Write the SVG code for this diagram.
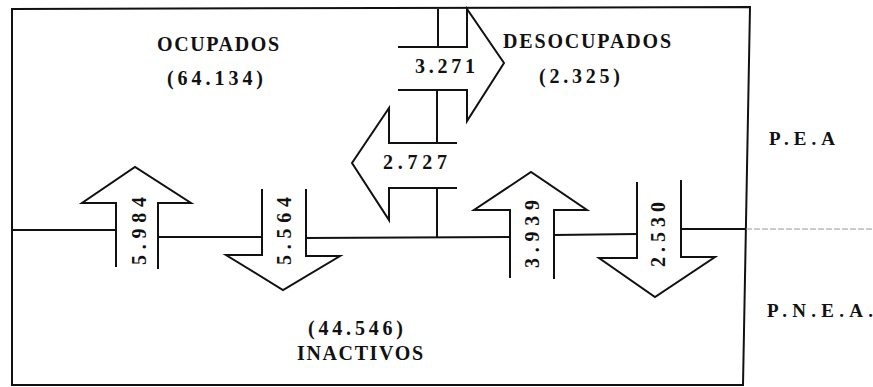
<svg xmlns="http://www.w3.org/2000/svg" width="873" height="387" viewBox="0 0 873 387">
<style>
.ln{fill:none;stroke:#111;stroke-width:2;stroke-linejoin:miter}
.t{font-family:"Liberation Serif","Times New Roman",serif;font-weight:bold;font-size:20px;fill:#111}
.lbl{font-family:"Liberation Serif","Times New Roman",serif;font-weight:bold;font-size:19px;fill:#111}
</style>
<rect width="873" height="387" fill="#fff"/>
<g id="frame">
<path class="ln" d="M12,9 L750,7 L743,385 L12,385 Z"/>
<line x1="746" y1="229" x2="873" y2="229" stroke="#999" stroke-width="1" stroke-dasharray="6,2"/>
</g>
<g id="connectors">
<path class="ln" d="M12,230 L116,230"/>
<path class="ln" d="M158,237 L262,237"/>
<path class="ln" d="M306,238 L510,237"/>
<path class="ln" d="M554,235 L637,234"/>
<path class="ln" d="M681,229 L745,229"/>
<path class="ln" d="M438,9 L438,47 M437,90 L437,143 M437,188 L437,237"/>
</g>
<g id="ocupados">
<text class="t" x="157" y="51" textLength="122" lengthAdjust="spacing">OCUPADOS</text>
<text class="t" x="167" y="85" textLength="96" lengthAdjust="spacing">(64.134)</text>
</g>
<g id="desocupados">
<text class="t" x="503" y="48" textLength="168" lengthAdjust="spacing">DESOCUPADOS</text>
<text class="t" x="539" y="83" textLength="81" lengthAdjust="spacing">(2.325)</text>
</g>
<g id="inactivos">
<text class="t" x="308" y="335" textLength="95" lengthAdjust="spacing">(44.546)</text>
<text class="t" x="297" y="360" textLength="126" lengthAdjust="spacing">INACTIVOS</text>
</g>
<g id="pea">
<text class="lbl" x="769" y="145" textLength="66" lengthAdjust="spacing">P.E.A</text>
</g>
<g id="pnea">
<text class="lbl" x="767" y="317" textLength="106" lengthAdjust="spacing">P.N.E.A.</text>
</g>
<g id="arrow-3271">
<path class="ln" d="M398,47 L467,47 L467,9 L504,63 L467,121 L467,90 L398,90"/>
<text class="t" x="415" y="73" textLength="60" lengthAdjust="spacing">3.271</text>
</g>
<g id="arrow-2727">
<path class="ln" d="M457,143 L389,143 L389,108 L352,163 L389,220 L389,188 L457,188"/>
<text class="t" x="383" y="169" textLength="64" lengthAdjust="spacing">2.727</text>
</g>
<g id="arrow-5984">
<path class="ln" d="M116,267 L116,203 L82,203 L135,167 L191,203 L158,203 L158,269"/>
<text class="t" transform="translate(146,231) rotate(-90)" text-anchor="middle" textLength="68" lengthAdjust="spacing">5.984</text>
</g>
<g id="arrow-5564">
<path class="ln" d="M262,189 L262,255 L226,255 L283,290 L340,256 L306,256 L306,189"/>
<text class="t" transform="translate(291,231) rotate(-90)" text-anchor="middle" textLength="68" lengthAdjust="spacing">5.564</text>
</g>
<g id="arrow-3939">
<path class="ln" d="M510,278 L510,210 L474,210 L531,172 L587,210 L554,210 L554,279"/>
<text class="t" transform="translate(539,234) rotate(-90)" text-anchor="middle" textLength="68" lengthAdjust="spacing">3.939</text>
</g>
<g id="arrow-2530">
<path class="ln" d="M637,182 L637,258 L599,258 L655,297 L715,257 L681,257 L681,180"/>
<text class="t" transform="translate(665,234.5) rotate(-90)" text-anchor="middle" textLength="65" lengthAdjust="spacing">2.530</text>
</g>
</svg>
